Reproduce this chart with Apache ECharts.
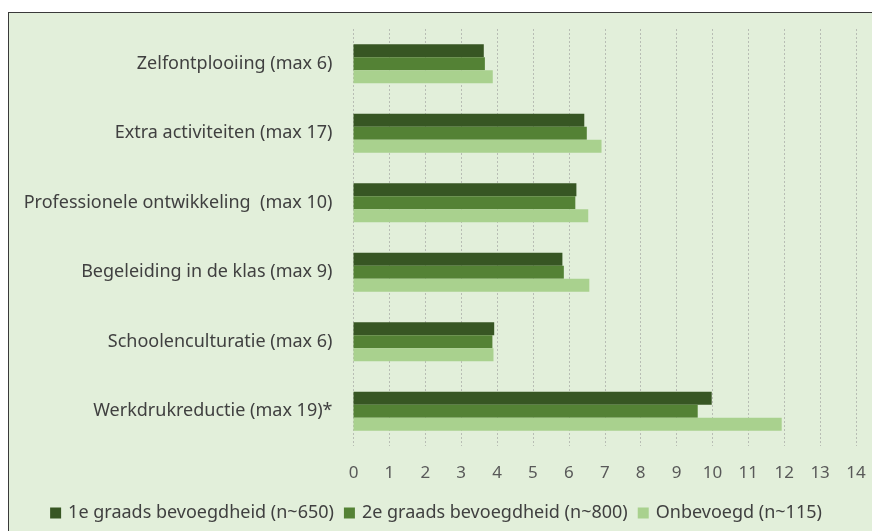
<!DOCTYPE html>
<html>
<head>
<meta charset="utf-8">
<script src="https://cdn.jsdelivr.net/npm/echarts@6/dist/echarts.min.js"></script>
<style>
html,body{margin:0;padding:0;background:#fff;width:872px;height:531px;overflow:hidden;}
#frame{position:absolute;left:8px;top:12px;width:870px;height:525px;background:#E2EFDA;border:1.5px solid #3a3a3a;}
#chart{position:absolute;left:0;top:0;width:872px;height:531px;}
</style>
</head>
<body>
<div id="frame"></div>
<div id="chart"></div>
<script>
var categories = ['Zelfontplooiing (max 6)', 'Extra activiteiten (max 17)', 'Professionele ontwikkeling  (max 10)', 'Begeleiding in de klas (max 9)', 'Schoolenculturatie (max 6)', 'Werkdrukreductie (max 19)*'];
var seriesNames = ['1e graads bevoegdheid (n~650)', '2e graads bevoegdheid (n~800)', 'Onbevoegd (n~115)'];
var eerstegraads = [3.63, 6.43, 6.21, 5.82, 3.92, 9.98];
var tweedegraads = [3.66, 6.50, 6.18, 5.86, 3.87, 9.59];
var onbevoegd = [3.88, 6.91, 6.54, 6.57, 3.90, 11.93];
var colors = ['#375623', '#548235', '#A9D18E'];

var font = 'Noto Sans';
var chart = echarts.init(document.getElementById('chart'), null, {renderer: 'canvas'});
var data = [eerstegraads, tweedegraads, onbevoegd];
chart.setOption({
  backgroundColor: 'transparent',
  animation: false,
  grid: {left: 353.5, right: 16, top: 29, bottom: 85, containLabel: false},
  xAxis: {
    type: 'value', min: 0, max: 14, interval: 1,
    axisLine: {show: false}, axisTick: {show: false},
    axisLabel: {color: '#595959', fontFamily: font, fontSize: 17, margin: 19},
    splitLine: {show: true, lineStyle: {color: '#b8bdb4', type: [2, 2], width: 1}}
  },
  yAxis: {
    type: 'category', data: categories, inverse: true,
    axisLine: {show: false}, axisTick: {show: false},
    axisLabel: {color: '#404040', fontFamily: font, fontSize: 18, margin: 21}
  },
  legend: {
    data: seriesNames, bottom: 4, left: 'center',
    itemWidth: 11, itemHeight: 11, itemGap: 10, icon: 'rect',
    textStyle: {color: '#404040', fontFamily: font, fontSize: 18, padding: [0, 0, 0, 2]}
  },
  series: seriesNames.map(function (n, i) {
    return {
      name: n, type: 'bar', data: data[i],
      itemStyle: {color: colors[i]},
      barGap: '0%', barCategoryGap: '44%'
    };
  })
});
</script>
</body>
</html>
